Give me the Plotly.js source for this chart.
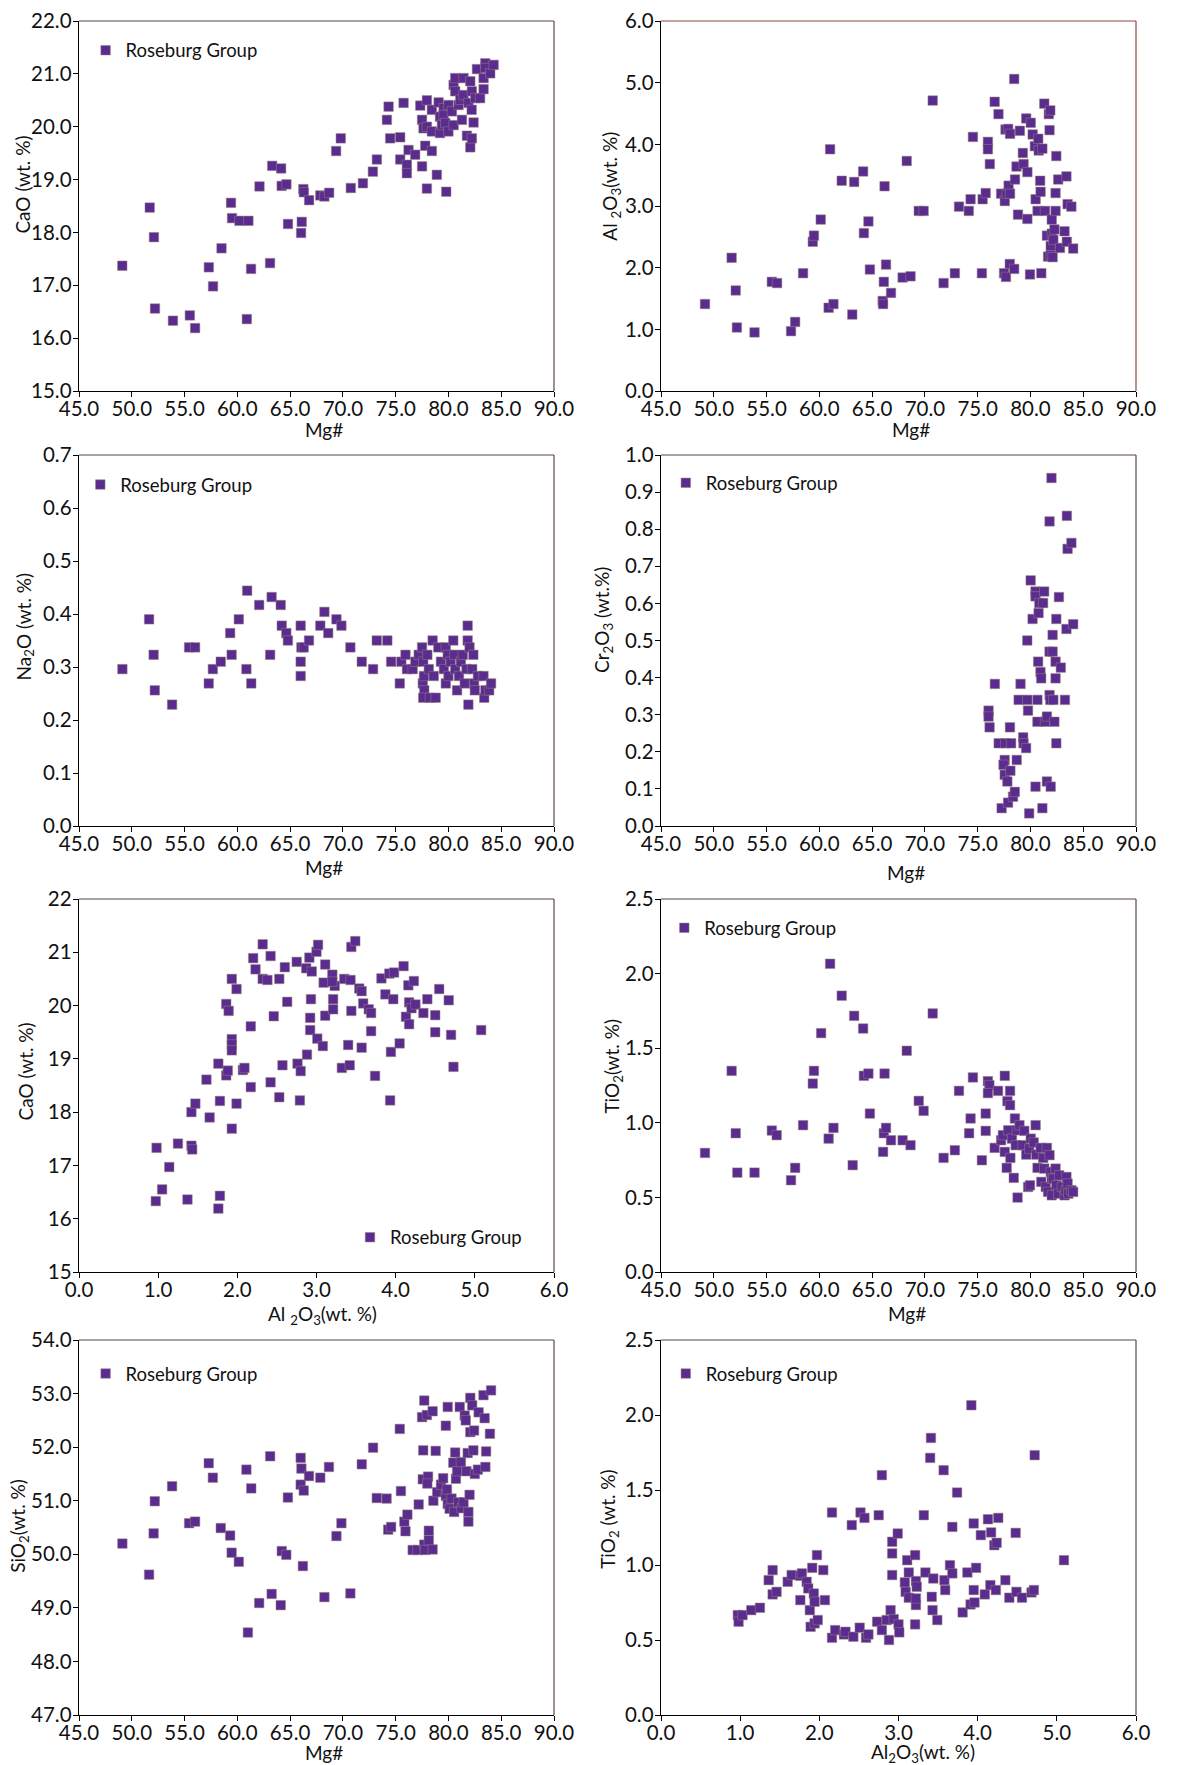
<!DOCTYPE html>
<html><head><meta charset="utf-8">
<script src="https://cdn.plot.ly/plotly-3.0.1.min.js"></script>
<style>html,body{margin:0;padding:0;background:#fff}#chart{width:1181px;height:1765px}</style>
</head><body><div id="chart"></div>
<script>
const SERIES_NAME = 'Roseburg Group';

// Panel 1: CaO vs Mg#
const cao_mg = [49.1,51.7,52.1,52.2,53.9,55.5,56.0,57.3,57.7,58.5,59.4,59.5,60.2,61.05,60.9,61.3,62.1,63.1,63.3,64.15,64.2,64.65,64.8,66.04,66.1,66.25,66.3,66.8,67.86,68.25,68.7,69.36,69.8,70.75,
71.9,72.84,73.22,74.17,74.33,74.48,75.43,75.43,75.75,76.06,76.06,76.22,76.85,77.33,77.5,77.5,77.64,77.8,77.96,77.96,77.96,78.43,78.43,78.43,78.9,79.07,79.2,79.2,79.38,79.54,79.54,79.7,79.79,80.0,80.0,80.33,80.49,80.49,80.64,80.64,80.96,81.12,81.28,81.43,81.43,81.75,81.9,82.07,82.07,82.2,82.22,82.22,82.38,82.54,82.7,83.0,83.33,83.33,83.49,83.49,83.96,84.28];
const cao_val = [17.37,18.47,17.91,16.56,16.33,16.43,16.19,17.34,16.98,17.70,18.56,18.27,18.22,18.22,16.36,17.31,18.87,17.42,19.26,19.21,18.88,18.91,18.16,17.99,18.20,18.82,18.76,18.61,18.70,18.68,18.75,19.54,19.78,18.84,
18.93,19.15,19.38,20.13,20.38,19.78,19.80,19.38,20.45,19.28,19.12,19.56,19.47,20.40,20.13,19.25,19.97,19.64,20.50,20.0,18.83,20.32,19.91,19.54,19.09,20.46,20.19,19.88,20.03,20.35,20.22,20.07,18.77,20.41,19.91,20.29,20.79,20.03,20.92,20.67,20.41,20.51,20.13,20.92,20.60,19.83,20.45,20.86,19.61,20.32,20.67,19.78,20.08,20.54,21.09,20.54,20.92,20.71,21.20,21.11,21.01,21.17];

// Panel 2: Al2O3 vs Mg#
const al_mg = [49.17,51.69,52.08,52.19,53.86,55.5,56.0,57.32,57.71,58.46,59.38,59.49,60.13,61.02,60.88,61.34,62.12,63.12,63.3,64.15,64.22,64.65,64.79,66.18,66.11,66.0,66.04,66.32,66.79,67.89,68.64,68.28,69.42,69.88,70.74,71.77,72.84,73.23,74.16,74.33,74.55,75.4,75.47,75.76,75.97,75.97,76.15,76.61,76.97,77.22,77.5,77.57,77.64,77.68,77.75,77.89,78.07,77.93,78.07,78.04,78.46,78.46,78.54,78.68,78.82,79.0,79.28,79.35,79.6,79.71,79.71,79.96,80.03,80.21,80.42,80.49,80.67,80.74,80.78,80.92,80.96,81.03,81.13,81.31,81.38,81.56,81.67,81.74,81.81,81.88,81.92,81.92,82.02,82.02,82.1,82.17,82.27,82.38,82.45,82.38,82.63,82.8,83.23,83.41,83.52,83.45,83.88,84.05];
const al_val = [1.41,2.16,1.63,1.03,0.95,1.77,1.75,0.97,1.12,1.91,2.42,2.52,2.78,3.92,1.35,1.41,3.41,1.24,3.39,3.56,2.56,2.75,1.97,3.32,1.77,1.46,1.41,2.05,1.59,1.84,1.86,3.73,2.92,2.92,4.71,1.75,1.91,2.99,2.92,3.11,4.12,1.91,3.11,3.21,4.04,3.92,3.68,4.69,4.49,3.20,1.91,3.08,4.24,1.85,3.20,4.25,4.17,3.33,3.20,2.06,1.98,5.06,3.43,3.64,2.86,4.22,3.86,3.68,4.42,3.55,2.79,1.89,4.35,4.16,3.97,3.11,2.92,4.09,3.90,3.41,3.23,1.91,3.93,4.66,2.92,2.52,2.18,4.49,4.23,4.55,2.35,2.20,2.78,2.55,2.17,2.45,2.62,3.21,3.81,2.92,3.43,2.32,2.59,3.48,3.03,2.42,2.99,2.31];

// Panel 3: Na2O vs Mg#
const na_mg = [49.11,51.64,52.07,52.18,53.82,55.43,56.0,57.29,57.68,58.43,59.32,59.46,60.14,60.93,60.86,61.32,62.07,63.11,63.25,64.11,64.21,64.64,64.79,66.0,66.07,66.0,66.0,66.29,66.79,67.86,68.25,68.61,69.39,69.86,70.71,71.79,72.86,73.21,74.21,74.57,75.39,75.54,75.93,76.07,76.61,76.86,77.18,77.5,77.61,77.57,77.68,77.71,77.61,78.0,78.14,78.25,78.5,78.61,78.79,79.04,79.29,79.57,79.75,79.75,79.93,80.0,80.21,80.46,80.57,80.64,80.82,81.0,81.18,81.36,81.54,81.71,81.82,81.82,81.89,82.0,82.25,82.36,82.43,82.5,82.79,83.32,83.39,83.5,83.86,84.04];
const na_val = [0.296,0.390,0.323,0.256,0.229,0.337,0.337,0.269,0.296,0.310,0.364,0.323,0.390,0.444,0.296,0.269,0.417,0.323,0.432,0.417,0.378,0.364,0.350,0.378,0.337,0.310,0.283,0.337,0.350,0.378,0.404,0.364,0.390,0.378,0.337,0.310,0.296,0.350,0.350,0.310,0.269,0.310,0.323,0.296,0.296,0.310,0.323,0.337,0.310,0.269,0.283,0.256,0.242,0.323,0.296,0.242,0.350,0.283,0.242,0.337,0.310,0.296,0.337,0.269,0.323,0.283,0.310,0.350,0.323,0.296,0.256,0.283,0.310,0.323,0.269,0.296,0.350,0.378,0.229,0.337,0.296,0.323,0.269,0.256,0.283,0.283,0.242,0.256,0.256,0.269];

// Panel 4: Cr2O3 vs Mg#
const cr_mg = [76.03,76.03,76.13,76.63,76.99,77.27,77.56,77.45,77.56,77.81,77.63,77.88,78.06,78.1,78.17,78.35,78.52,78.7,78.88,79.06,79.31,79.34,79.59,79.7,79.7,79.77,79.88,80.02,80.2,80.48,80.48,80.48,80.66,80.66,80.73,80.77,80.84,80.95,81.02,81.13,81.2,81.3,81.38,81.56,81.56,81.81,81.81,81.81,81.88,81.92,81.99,82.1,82.1,82.17,82.27,82.38,82.38,82.45,82.45,82.7,82.88,83.27,83.41,83.45,83.52,83.88,84.05];
const cr_val = [0.311,0.295,0.266,0.383,0.223,0.048,0.178,0.165,0.138,0.120,0.223,0.063,0.266,0.149,0.223,0.079,0.092,0.178,0.340,0.383,0.239,0.223,0.210,0.340,0.500,0.311,0.034,0.662,0.558,0.632,0.619,0.106,0.340,0.281,0.443,0.574,0.601,0.415,0.398,0.048,0.601,0.632,0.281,0.295,0.120,0.821,0.470,0.353,0.340,0.106,0.938,0.515,0.470,0.340,0.281,0.443,0.398,0.558,0.223,0.617,0.427,0.340,0.531,0.836,0.747,0.763,0.544];

// Panel 5: CaO vs Al2O3
const caoAl_al = [0.98,0.97,1.05,1.14,1.25,1.37,1.42,1.43,1.42,1.47,1.61,1.65,1.76,1.78,1.76,1.78,1.86,1.86,1.88,1.89,1.93,1.93,1.93,1.93,1.93,1.99,1.99,2.07,2.09,2.17,2.17,2.20,2.23,2.32,2.32,2.38,2.42,2.42,2.46,2.53,2.53,2.57,2.60,2.63,2.75,2.76,2.79,2.80,2.87,2.88,2.91,2.93,2.92,2.92,2.94,3.00,3.02,3.01,3.08,3.09,3.11,3.11,3.20,3.21,3.21,3.23,3.20,3.32,3.35,3.40,3.42,3.43,3.44,3.44,3.49,3.54,3.57,3.57,3.59,3.66,3.69,3.69,3.74,3.82,3.87,3.92,3.93,3.94,3.97,3.98,4.05,4.10,4.13,4.16,4.17,4.17,4.20,4.23,4.25,4.35,4.40,4.50,4.50,4.55,4.67,4.70,4.73,5.08];
const caoAl_cao = [17.33,16.33,16.55,16.97,17.41,16.36,17.37,17.30,18.00,18.16,18.61,17.90,18.91,18.21,16.19,16.43,20.03,18.69,18.78,19.90,20.50,17.69,19.37,19.27,19.16,20.31,18.16,18.79,18.83,19.61,18.47,20.89,20.68,21.15,20.50,20.48,20.93,18.56,19.80,20.50,18.28,18.88,20.72,20.07,20.82,18.91,18.22,18.77,20.70,19.08,20.90,20.12,19.77,19.54,20.64,21.01,21.14,19.38,19.24,20.43,19.81,20.77,20.58,20.12,19.93,20.37,20.45,18.83,20.50,19.26,18.88,20.48,21.10,19.90,21.21,20.32,20.27,19.21,20.04,19.93,19.86,19.52,18.68,20.51,20.21,20.60,18.22,19.13,20.12,20.62,19.29,20.74,19.79,20.38,20.06,19.65,19.95,20.46,20.02,19.86,20.12,19.82,19.50,20.31,20.10,19.45,18.85,19.54];

// Panel 6: TiO2 vs Mg#
const ti_mg = [49.17,51.69,52.08,52.23,53.86,55.5,55.96,57.32,57.71,58.46,59.38,59.49,60.17,61.02,60.88,61.34,62.12,63.16,63.3,64.15,64.22,64.65,64.79,66.18,66.11,66.04,66.32,66.79,67.89,68.64,68.28,69.42,69.88,70.74,71.77,72.84,73.23,74.19,74.33,74.55,75.4,75.76,75.76,75.97,76.11,75.97,76.61,76.93,77.22,77.39,77.57,77.57,77.75,77.82,77.89,78.07,78.07,78.1,78.25,78.42,78.53,78.6,78.78,78.71,78.96,79.25,79.42,79.6,79.78,79.96,79.89,80.03,80.31,80.49,80.56,80.67,80.96,81.03,81.21,81.31,81.45,81.56,81.67,81.81,81.92,82.02,82.02,82.17,82.38,82.45,82.63,82.73,82.98,83.23,83.34,83.41,83.52,83.59,83.88,84.05];
const ti_val = [0.798,1.348,0.930,0.666,0.666,0.948,0.917,0.615,0.698,0.984,1.263,1.348,1.601,2.066,0.894,0.966,1.852,0.716,1.717,1.632,1.315,1.330,1.062,1.330,0.930,0.805,0.966,0.883,0.883,0.850,1.483,1.147,1.080,1.733,0.765,0.816,1.214,0.930,1.029,1.304,0.749,0.946,1.062,1.279,1.252,1.199,0.832,1.214,0.883,0.917,1.315,0.805,0.698,1.145,0.950,1.214,1.118,0.765,0.894,0.631,1.029,0.850,0.499,0.950,0.984,0.850,0.946,0.787,0.570,0.581,0.827,0.894,0.868,0.984,0.787,0.698,0.832,0.604,0.765,0.693,0.570,0.832,0.537,0.783,0.671,0.514,0.626,0.626,0.693,0.581,0.525,0.648,0.570,0.514,0.548,0.637,0.593,0.525,0.548,0.537];

// Panel 7: SiO2 vs Mg#
const si_mg = [49.11,51.64,52.07,52.18,53.82,55.43,56.0,57.29,57.68,58.43,59.32,59.46,60.14,60.86,61.0,61.32,62.07,63.11,63.25,64.11,64.21,64.64,64.79,66.0,66.07,66.0,66.29,66.21,66.79,67.86,68.25,68.68,69.39,69.86,70.71,71.79,72.86,73.21,74.14,74.29,74.57,75.39,75.5,75.82,75.93,76.11,76.61,77.18,77.07,77.5,77.71,77.61,77.57,77.71,77.79,77.96,78.07,78.0,78.14,78.14,78.5,78.5,78.57,78.79,78.93,79.29,79.5,79.75,79.75,79.86,79.93,79.93,80.11,80.29,80.46,80.54,80.64,80.71,80.82,80.93,81.07,81.18,81.25,81.43,81.54,81.64,81.71,81.82,81.89,81.89,82.0,82.07,82.07,82.25,82.36,82.43,82.5,82.79,82.86,83.32,83.43,83.5,83.57,83.93,84.04];
const si_val = [50.20,49.62,50.39,50.99,51.27,50.58,50.61,51.70,51.43,50.49,50.35,50.03,49.86,51.58,48.54,51.23,49.09,51.83,49.26,49.05,50.06,49.99,51.06,51.80,51.60,51.30,51.19,49.78,51.46,51.43,49.20,51.63,50.34,50.58,49.27,51.68,51.99,51.05,51.04,50.46,50.51,52.34,51.18,50.61,50.43,50.74,50.08,50.93,50.08,52.56,52.87,51.94,51.40,50.18,50.08,52.60,51.45,51.32,50.44,50.26,52.67,50.09,51.00,51.93,51.16,51.30,51.42,52.40,51.09,51.21,52.75,50.94,50.85,51.04,51.71,50.79,51.90,51.41,51.55,50.97,52.75,51.72,50.86,50.97,52.59,52.50,51.55,51.89,50.61,50.79,51.11,52.92,52.28,52.78,51.94,52.31,51.50,51.58,52.65,52.97,52.54,51.63,51.92,52.25,53.06];

// Panel 8: TiO2 vs Al2O3
const tiAl_al = [0.97,0.98,1.03,1.14,1.25,1.36,1.41,1.41,1.46,1.60,1.65,1.76,1.76,1.78,1.84,1.86,1.88,1.89,1.91,1.93,1.94,1.94,1.97,1.98,2.05,2.07,2.16,2.16,2.20,2.31,2.33,2.41,2.43,2.51,2.52,2.57,2.59,2.62,2.73,2.75,2.79,2.79,2.85,2.88,2.90,2.92,2.92,2.92,2.94,2.99,3.00,3.01,3.08,3.09,3.11,3.13,3.13,3.21,3.21,3.22,3.22,3.23,3.22,3.32,3.34,3.40,3.41,3.42,3.43,3.44,3.49,3.57,3.58,3.59,3.65,3.68,3.68,3.74,3.81,3.87,3.91,3.92,3.95,3.95,3.96,3.98,4.04,4.09,4.13,4.16,4.17,4.21,4.23,4.24,4.26,4.35,4.40,4.48,4.49,4.56,4.68,4.71,4.72,5.09];
const tiAl_ti = [0.666,0.622,0.666,0.699,0.715,0.899,0.966,0.804,0.821,0.888,0.933,0.928,0.766,0.944,0.888,0.844,0.699,0.588,0.981,0.810,0.611,0.755,1.066,0.633,0.966,0.766,1.350,0.515,0.566,0.537,0.555,1.266,0.522,0.582,1.350,1.314,0.515,0.537,0.622,1.332,1.599,0.566,0.633,0.500,0.699,1.155,1.077,0.933,0.639,1.210,0.604,0.551,0.884,0.821,1.032,0.950,0.782,1.066,0.604,0.893,0.733,0.855,0.777,1.332,0.950,1.714,1.847,0.788,0.699,0.910,0.633,1.632,0.899,0.833,0.999,1.254,0.944,1.483,0.684,0.950,0.737,2.065,1.277,0.833,0.750,0.981,1.199,0.804,1.305,0.866,1.217,1.132,0.833,1.148,1.314,0.899,0.782,1.214,0.821,0.782,0.817,0.833,1.732,1.032];

// ---------- layout / styling ----------
const W = 1181, H = 1765;
const FONT = 'Lato, "Open Sans", "DejaVu Sans", sans-serif';
const TXT = '#111111';
const colL = [79, 554], colR = [661, 1136];
const rows = [[21, 391], [455, 826], [899, 1272], [1340, 1715]];
const xd = c => [c[0] / W, c[1] / W];
const yd = r => [1 - r[1] / H, 1 - r[0] / H];

// xtp / ytp: pixel centres of the axis titles; leg: pixel centre of the legend symbol
const panels = [
  {x: cao_mg, y: cao_val, col: colL, row: rows[0], xr: [45, 90], xdt: 5, xf: '.1f', yr: [15, 22], ydt: 1, yf: '.1f',
   xt: 'Mg#', yt: 'CaO (wt. %)', xtp: [324, 430], ytp: [22.6, 185], leg: [110.6, 50.7], frame: '#5b4844'},
  {x: al_mg, y: al_val, col: colR, row: rows[0], xr: [45, 90], xdt: 5, xf: '.1f', yr: [0, 6], ydt: 1, yf: '.1f',
   xt: 'Mg#', yt: 'Al <sub>2</sub>O<sub>3</sub>(wt. %)', xtp: [911, 429], ytp: [610.7, 186], leg: null, frame: '#8b4a3c'},
  {x: na_mg, y: na_val, col: colL, row: rows[1], xr: [45, 90], xdt: 5, xf: '.1f', yr: [0, 0.7], ydt: 0.1, yf: '.1f',
   xt: 'Mg#', yt: 'Na<sub>2</sub>O (wt. %)', xtp: [324, 867], ytp: [24.5, 627], leg: [105.3, 485], frame: '#5b4844'},
  {x: cr_mg, y: cr_val, col: colR, row: rows[1], xr: [45, 90], xdt: 5, xf: '.1f', yr: [0, 1], ydt: 0.1, yf: '.1f',
   xt: 'Mg#', yt: 'Cr<sub>2</sub>O<sub>3</sub> (wt.%)', xtp: [906, 872], ytp: [603, 620], leg: [690.8, 483.3], frame: '#5b4844'},
  {x: caoAl_al, y: caoAl_cao, col: colL, row: rows[2], xr: [0, 6], xdt: 1, xf: '.1f', yr: [15, 22], ydt: 1, yf: 'd',
   xt: 'Al <sub>2</sub>O<sub>3</sub>(wt. %)', yt: 'CaO (wt. %)', xtp: [322, 1315], ytp: [24.5, 1072], leg: [375, 1237.7], frame: '#5b4844'},
  {x: ti_mg, y: ti_val, col: colR, row: rows[2], xr: [45, 90], xdt: 5, xf: '.1f', yr: [0, 2.5], ydt: 0.5, yf: '.1f',
   xt: 'Mg#', yt: 'TiO<sub>2</sub>(wt. %)', xtp: [907, 1313], ytp: [612.6, 1066], leg: [689.3, 928.3], frame: '#5b4844'},
  {x: si_mg, y: si_val, col: colL, row: rows[3], xr: [45, 90], xdt: 5, xf: '.1f', yr: [47, 54], ydt: 1, yf: '.1f',
   xt: 'Mg#', yt: 'SiO<sub>2</sub>(wt. %)', xtp: [324, 1752], ytp: [18.8, 1526], leg: [110.6, 1374], frame: '#5b4844'},
  {x: tiAl_al, y: tiAl_ti, col: colR, row: rows[3], xr: [0, 6], xdt: 1, xf: '.1f', yr: [0, 2.5], ydt: 0.5, yf: '.1f',
   xt: 'Al<sub>2</sub>O<sub>3</sub>(wt. %)', yt: 'TiO<sub>2</sub> (wt. %)', xtp: [923, 1753], ytp: [608.8, 1519], leg: [690.8, 1374], frame: '#5b4844'}
];

const traces = [];
const layout = {
  width: W, height: H, margin: {l: 0, r: 0, t: 0, b: 0, autoexpand: false},
  paper_bgcolor: '#fff', plot_bgcolor: '#fff',
  font: {family: FONT, color: TXT, size: 19},
  shapes: [], annotations: [], showlegend: true
};
const titleFont = {family: FONT, size: 19, color: TXT};

let legCount = 0;
panels.forEach((p, i) => {
  const n = i === 0 ? '' : String(i + 1);
  const xa = 'x' + n, ya = 'y' + n;
  const tr = {
    type: 'scatter', mode: 'markers', name: SERIES_NAME, x: p.x, y: p.y,
    xaxis: xa, yaxis: ya, cliponaxis: false,
    marker: {symbol: 'square', size: 9.5, color: '#5b2c90', line: {color: 'rgba(150,130,120,0.85)', width: 0.6}},
    showlegend: !!p.leg
  };
  if (p.leg) {
    legCount += 1;
    const key = legCount === 1 ? 'legend' : 'legend' + legCount;
    tr.legend = key;
    layout[key] = {
      x: (p.leg[0] - 25) / W, y: 1 - p.leg[1] / H, xanchor: 'left', yanchor: 'middle',
      bgcolor: 'rgba(0,0,0,0)', borderwidth: 0, font: {family: FONT, size: 18.5, color: TXT},
      itemclick: false, itemdoubleclick: false
    };
  }
  traces.push(tr);
  const common = {
    ticks: 'outside', ticklen: 5, tickwidth: 1, tickcolor: '#000',
    showline: true, linecolor: '#000', linewidth: 1.3, mirror: false,
    showgrid: false, zeroline: false, fixedrange: true, automargin: false,
    tickfont: {family: FONT, size: 20.5, color: TXT}
  };
  layout['xaxis' + n] = Object.assign({}, common, {
    domain: xd(p.col), range: p.xr, dtick: p.xdt, tick0: p.xr[0], tickformat: p.xf, anchor: ya,
    ticklabelstandoff: -6
  });
  layout['yaxis' + n] = Object.assign({}, common, {
    domain: yd(p.row), range: p.yr, dtick: p.ydt, tick0: p.yr[0], tickformat: p.yf, anchor: xa,
    ticklabelstandoff: -3
  });
  // axis titles
  layout.annotations.push(
    {xref: 'paper', yref: 'paper', x: p.xtp[0] / W, y: 1 - p.xtp[1] / H, text: p.xt, showarrow: false,
     xanchor: 'center', yanchor: 'middle', font: titleFont},
    {xref: 'paper', yref: 'paper', x: p.ytp[0] / W, y: 1 - p.ytp[1] / H, text: p.yt, showarrow: false,
     textangle: -90, xanchor: 'center', yanchor: 'middle', font: titleFont}
  );
  // top and right frame lines (lighter than the axis lines)
  layout.shapes.push(
    {type: 'line', xref: xa + ' domain', yref: ya + ' domain', x0: 0, x1: 1, y0: 1, y1: 1, line: {color: p.frame, width: 1.2}},
    {type: 'line', xref: xa + ' domain', yref: ya + ' domain', x0: 1, x1: 1, y0: 0, y1: 1, line: {color: p.frame, width: 1.2}}
  );
});

Plotly.newPlot('chart', traces, layout, {displayModeBar: false, staticPlot: true});
</script>
</body></html>
